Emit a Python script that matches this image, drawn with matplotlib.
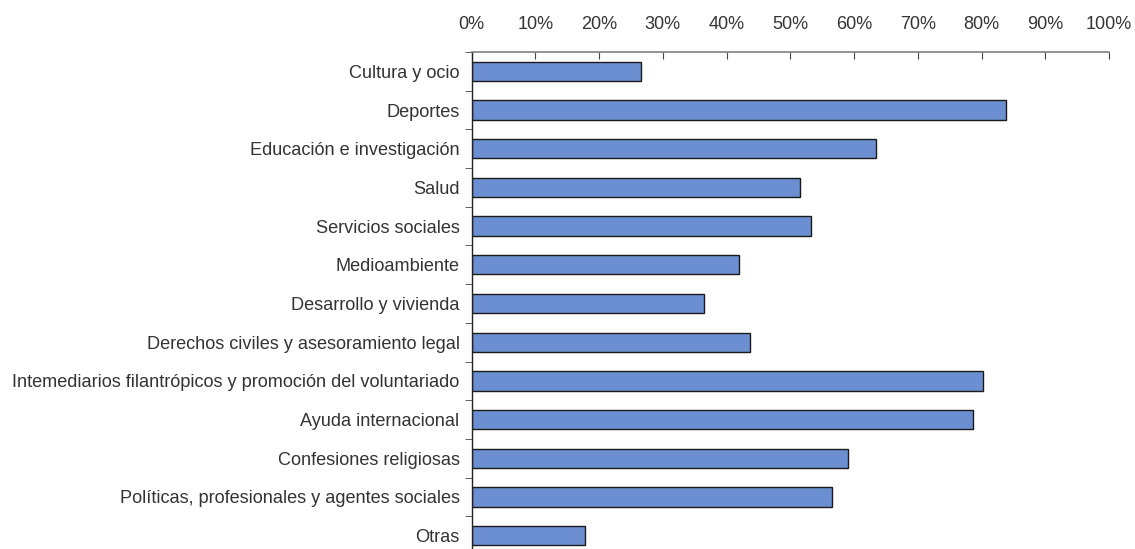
import matplotlib
matplotlib.use("Agg")
import matplotlib.pyplot as plt
import numpy as np
from matplotlib.ticker import FuncFormatter, MultipleLocator

categories = [
    "Cultura y ocio",
    "Deportes",
    "Educación e investigación",
    "Salud",
    "Servicios sociales",
    "Medioambiente",
    "Desarrollo y vivienda",
    "Derechos civiles y asesoramiento legal",
    "Intemediarios filantrópicos y promoción del voluntariado",
    "Ayuda internacional",
    "Confesiones religiosas",
    "Políticas, profesionales y agentes sociales",
    "Otras",
]
values = [26.6, 83.8, 63.4, 51.6, 53.2, 41.9, 36.4, 43.7, 80.2, 78.6, 59.0, 56.5, 17.8]
xticks = [0, 10, 20, 30, 40, 50, 60, 70, 80, 90, 100]

plt.rcParams['font.family'] = ['Liberation Sans', 'DejaVu Sans']

fig = plt.figure(figsize=(11.35, 5.49), dpi=100)
ax = fig.add_axes([471.5/1135, 1 - 555/549, (1109 - 471.5)/1135, (555 - 52)/549])

y = np.arange(len(categories))
ax.barh(y, values, height=0.5, color="#6B8FD0", edgecolor="#1a1a1a", linewidth=1.0)

ax.set_xlim(0, 100)
ax.set_ylim(len(categories) - 0.5, -0.5)
ax.set_xticks(xticks)
ax.xaxis.set_major_formatter(FuncFormatter(lambda v, p: f"{int(v)}%"))
ax.xaxis.tick_top()
ax.tick_params(axis='x', direction='in', length=5, color="#444444", labelsize=13,
               labelcolor="#333333", pad=14)

ax.set_yticks(y)
ax.set_yticklabels(categories)
ax.yaxis.set_minor_locator(MultipleLocator(1, offset=0.5))
ax.tick_params(axis='y', which='major', length=0, pad=8.6, labelsize=13.1, labelcolor="#333333")
ax.tick_params(axis='y', which='minor', length=5, direction='out', color="#444444")

for s in ['right', 'bottom']:
    ax.spines[s].set_visible(False)
ax.spines['top'].set_color("#808080")
ax.spines['top'].set_linewidth(1.2)
ax.spines['left'].set_color("#222222")
ax.spines['left'].set_linewidth(1.0)

fig.savefig("out.png", dpi=100)
